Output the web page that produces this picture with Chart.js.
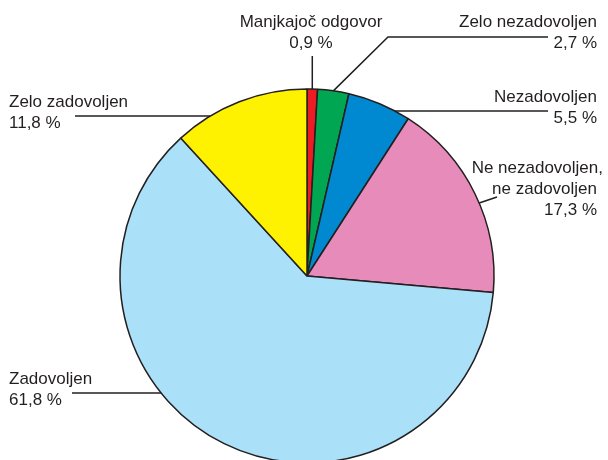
<!DOCTYPE html>
<html>
<head>
<meta charset="utf-8">
<script src="https://cdn.jsdelivr.net/npm/chart.js@4.4.1/dist/chart.umd.min.js"></script>
<style>
  html, body { margin: 0; padding: 0; background: #fff; overflow: hidden; }
  #wrap { width: 608px; height: 480px; }
</style>
</head>
<body>
<div id="wrap"><canvas id="pie" width="608" height="480"></canvas></div>
<script>
// Data
const categories = ['Manjkajoč odgovor', 'Zelo nezadovoljen', 'Nezadovoljen', 'Ne nezadovoljen, ne zadovoljen', 'Zadovoljen', 'Zelo zadovoljen'];
const shares = [0.9, 2.7, 5.5, 17.3, 61.8, 11.8];
const sliceColors = ['#ed1c24', '#00a651', '#0089d0', '#e78bba', '#abe0f9', '#fff200'];

// Label layout: text lines, anchor, baselines, and leader path
// edgeY = y where the leader meets the pie rim (side = which half), 'mid' = slice mid-angle
const labelLayout = [
    { lines: ['Manjkajoč odgovor', '0,9 %'], align: 'center', x: 311, y: [27, 48], edge: 'mid', path: p => [[p[0], 56]] },
    { lines: ['Zelo nezadovoljen', '2,7 %'], align: 'right', x: 597, y: [27, 48], edge: 'mid', path: () => [[388, 37], [548, 37]] },
    { lines: ['Nezadovoljen', '5,5 %'], align: 'right', x: 597, y: [102, 123], edgeY: 111, side: 1, path: () => [[548, 111]] },
    { lines: ['Ne nezadovoljen,', 'ne zadovoljen', '17,3 %'], align: 'right', x: [603, 597, 597], y: [173, 194, 215], edgeY: 203, side: 1, path: () => [[497, 197]] },
    { lines: ['Zadovoljen', '61,8 %'], align: 'left', x: 9, y: [384, 405], edgeY: 393, side: -1, path: () => [[72, 393]] },
    { lines: ['Zelo zadovoljen', '11,8 %'], align: 'left', x: 9, y: [107, 128], edgeY: 116, side: -1, path: () => [[75, 116]] }
];

const ink = '#231f20';

const labelPlugin = {
    id: 'pieLabels',
    afterDatasetsDraw(chart) {
        const ctx = chart.ctx;
        const arcs = chart.getDatasetMeta(0).data;
        ctx.save();
        ctx.strokeStyle = ink;
        ctx.lineWidth = 1.5;
        labelLayout.forEach((lab, i) => {
            const arc = arcs[i];
            const r = arc.outerRadius;
            let start;
            if (lab.edge === 'mid') {
                const a = (arc.startAngle + arc.endAngle) / 2;
                start = [arc.x + r * Math.cos(a), arc.y + r * Math.sin(a)];
            } else {
                const dy = lab.edgeY - arc.y;
                start = [arc.x + lab.side * Math.sqrt(r * r - dy * dy), lab.edgeY];
            }
            const pts = [start].concat(lab.path(start));
            ctx.beginPath();
            ctx.moveTo(pts[0][0], pts[0][1]);
            pts.slice(1).forEach(pt => ctx.lineTo(pt[0], pt[1]));
            ctx.stroke();

            ctx.fillStyle = ink;
            ctx.font = '17px "Liberation Sans", Arial, sans-serif';
            ctx.textAlign = lab.align;
            ctx.textBaseline = 'alphabetic';
            lab.lines.forEach((t, j) => {
                const x = Array.isArray(lab.x) ? lab.x[j] : lab.x;
                ctx.fillText(t, x, lab.y[j]);
            });
        });
        ctx.restore();
    }
};

new Chart(document.getElementById('pie').getContext('2d'), {
    type: 'pie',
    data: {
        labels: categories,
        datasets: [{
            data: shares,
            backgroundColor: sliceColors,
            borderColor: ink,
            borderWidth: 1.5
        }]
    },
    options: {
        responsive: false,
        animation: false,
        radius: 187,
        layout: { padding: { left: 6, right: 0, top: 72, bottom: 0 } },
        plugins: {
            legend: { display: false },
            tooltip: { enabled: false }
        }
    },
    plugins: [labelPlugin]
});
</script>
</body>
</html>
